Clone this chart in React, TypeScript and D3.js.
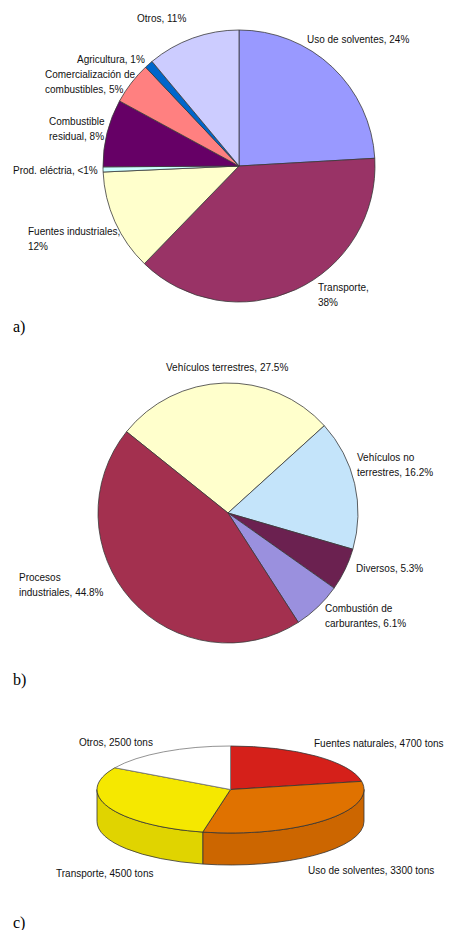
import React from "react";
import * as d3 from "d3";

// a) emissions by source, %
const aCategories = ["Uso de solventes", "Transporte", "Fuentes industriales", "Prod. eléctria", "Combustible residual", "Comercialización de combustibles", "Agricultura", "Otros"];
const aShares = [24, 38, 12, 0.6, 8, 5, 1, 11];
const aLabels = [["Uso de solventes, 24%"], ["Transporte,", "38%"], ["Fuentes industriales,", "12%"], ["Prod. eléctria, <1%"], ["Combustible", "residual, 8%"], ["Comercialización de", "combustibles, 5%"], ["Agricultura, 1%"], ["Otros, 11%"]];
const aColors = ["#9999ff", "#993366", "#ffffcc", "#ccffff", "#660066", "#ff8080", "#0066cc", "#ccccff"];

// b) emissions by source, %
const bCategories = ["Vehículos terrestres", "Vehículos no terrestres", "Diversos", "Combustión de carburantes", "Procesos industriales"];
const bShares = [27.5, 16.2, 5.3, 6.1, 44.8];
const bLabels = [["Vehículos terrestres, 27.5%"], ["Vehículos no", "terrestres, 16.2%"], ["Diversos, 5.3%"], ["Combustión de", "carburantes, 6.1%"], ["Procesos", "industriales, 44.8%"]];
const bColors = ["#ffffcc", "#c4e4fa", "#6b2150", "#9a90de", "#a3304f"];

// c) tons per year; slice sizes as they are drawn in the picture
const cCategories = ["Fuentes naturales", "Uso de solventes", "Transporte", "Otros"];
const cTons = [4700, 3300, 4500, 2500];
const cSliceTons = [3300, 4700, 4500, 2500];
const cTop = ["#d5201a", "#e07200", "#f5e800", "#ffffff"];
const cSide = ["#b01810", "#cc6600", "#e0d400", "#dddddd"];

// label anchors (left x, first baseline)
const aLabelPos = [[307, 43], [318, 291], [28, 235], [13, 174], [49, 125], [45, 78], [77, 63], [137, 22]];
const bLabelPos = [[166, 371], [357, 461], [356, 572], [325, 612], [19, 581]];
const cLabelPos = [[314, 747], [308, 874], [56, 877], [79, 746]];

const W = 453;
const H = 930;
const font = "'Liberation Sans', Arial, sans-serif";

function Labels({ lines, pos }: { lines: string[][]; pos: number[][] }) {
  return (
    <g fontFamily={font} fontSize={10} fill="#111">
      {lines.map((ls, i) => (
        <text key={i} x={pos[i][0]} y={pos[i][1]}>
          {ls.map((l, j) => (
            <tspan key={j} x={pos[i][0]} dy={j === 0 ? 0 : 15}>{l}</tspan>
          ))}
        </text>
      ))}
    </g>
  );
}

function FlatPie({ values, colors, cx, cy, r, start }: { values: number[]; colors: string[]; cx: number; cy: number; r: number; start: number }) {
  const pie = d3.pie<number>().sort(null).startAngle(start).endAngle(start + 2 * Math.PI);
  const arc = d3.arc<d3.PieArcDatum<number>>().innerRadius(0).outerRadius(r);
  return (
    <g transform={`translate(${cx},${cy})`}>
      {pie(values).map((d, i) => (
        <path key={i} d={arc(d) || ""} fill={colors[i]} stroke="#3a3a3a" strokeWidth={0.8} strokeLinejoin="round" />
      ))}
    </g>
  );
}

function Pie3D({ values, top, side, cx, cy, rx, ry, depth }: { values: number[]; top: string[]; side: string[]; cx: number; cy: number; rx: number; ry: number; depth: number }) {
  const arcs = d3.pie<number>().sort(null)(values);
  const arc = d3.arc<d3.PieArcDatum<number>>().innerRadius(0).outerRadius(rx);
  const pt = (a: number, dz: number) => [cx + rx * Math.sin(a), cy - ry * Math.cos(a) + dz];
  const sides = arcs.map((d, i) => {
    const s = Math.max(d.startAngle, Math.PI / 2);
    const e = Math.min(d.endAngle, (3 * Math.PI) / 2);
    if (s >= e) return null;
    const [x0, y0] = pt(s, 0);
    const [x1, y1] = pt(e, 0);
    const [x2, y2] = pt(e, depth);
    const [x3, y3] = pt(s, depth);
    const p = `M${x0},${y0}A${rx},${ry} 0 0 1 ${x1},${y1}L${x2},${y2}A${rx},${ry} 0 0 0 ${x3},${y3}Z`;
    return <path key={i} d={p} fill={side[i]} stroke="#333" strokeWidth={0.8} strokeLinejoin="round" />;
  });
  return (
    <g>
      {sides}
      <g transform={`translate(${cx},${cy}) scale(1,${ry / rx})`}>
        {arcs.map((d, i) => (
          <path key={i} d={arc(d) || ""} fill={top[i]} stroke={i === 3 ? "#777" : "#333"} strokeWidth={0.8} vectorEffect="non-scaling-stroke" strokeLinejoin="round" />
        ))}
      </g>
    </g>
  );
}

export default function App() {
  const cLabels = cCategories.map((c, i) => [`${c}, ${cTons[i]} tons`]);
  return (
    <svg width={W} height={H} style={{ position: "absolute", left: 0, top: 0, background: "#fff" }}>
      <rect width={W} height={H} fill="#fff" />
      <FlatPie values={aShares} colors={aColors} cx={239} cy={166} r={136} start={0} />
      <Labels lines={aLabels} pos={aLabelPos} />
      <text x={13} y={332} fontFamily="'Liberation Serif', 'Times New Roman', serif" fontSize={16}>a)</text>

      <FlatPie values={bShares} colors={bColors} cx={228} cy={513} r={130} start={(-51.3 * Math.PI) / 180} />
      <Labels lines={bLabels} pos={bLabelPos} />
      <text x={13} y={685} fontFamily="'Liberation Serif', 'Times New Roman', serif" fontSize={16}>b)</text>

      <Pie3D values={cSliceTons} top={cTop} side={cSide} cx={230.5} cy={789.5} rx={133.5} ry={43.5} depth={32} />
      <Labels lines={cLabels} pos={cLabelPos} />
      <text x={13} y={928} fontFamily="'Liberation Serif', 'Times New Roman', serif" fontSize={16}>c)</text>
    </svg>
  );
}
